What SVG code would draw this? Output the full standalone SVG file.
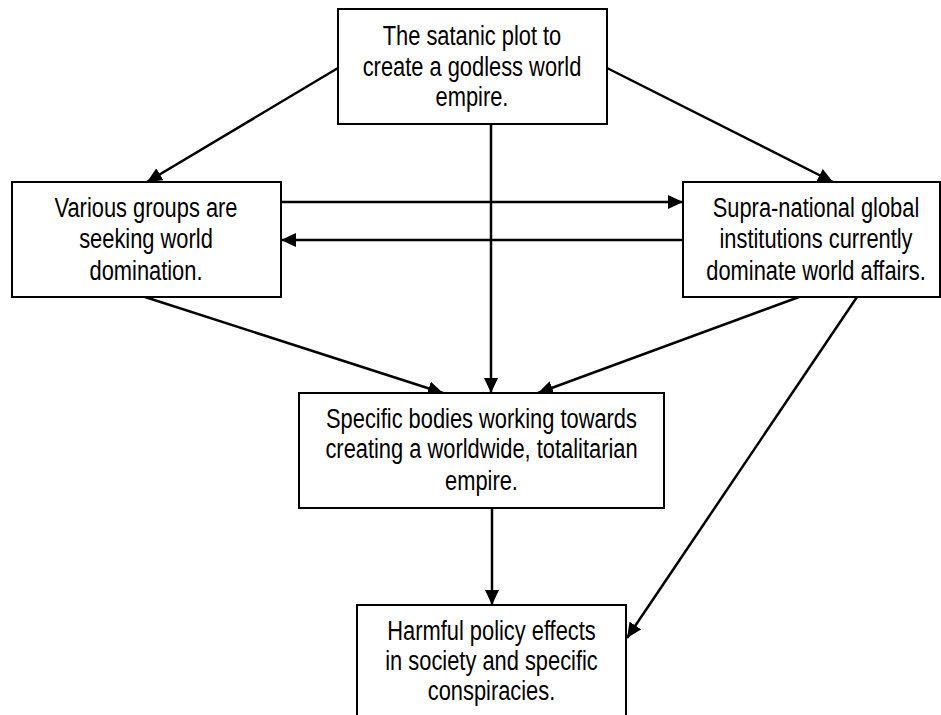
<svg xmlns="http://www.w3.org/2000/svg" width="941" height="715" viewBox="0 0 941 715">
<style>
.box{fill:#fff;stroke:#000;stroke-width:2}
.t{font-family:"Liberation Sans",Arial,sans-serif;font-size:27px;fill:#000;text-anchor:middle}
.c{stroke:#000;stroke-width:2.5;fill:none;marker-end:url(#ah)}
</style>
<defs>
<marker id="ah" markerUnits="userSpaceOnUse" markerWidth="16" markerHeight="14" refX="15" refY="7" orient="auto">
<path d="M0,0 L15,7 L0,14 z" fill="#000"/>
</marker>
</defs>
<rect width="941" height="715" fill="#fff"/>
<g id="connectors">
<line class="c" x1="338" y1="68" x2="147" y2="182"/>
<line class="c" x1="607" y1="68" x2="833" y2="182"/>
<line class="c" x1="491" y1="124" x2="491" y2="393"/>
<line class="c" x1="281" y1="202" x2="683" y2="202"/>
<line class="c" x1="683" y1="240" x2="281" y2="240"/>
<line class="c" x1="145" y1="297" x2="443" y2="393"/>
<line class="c" x1="799" y1="297" x2="538" y2="393"/>
<line class="c" x1="857" y1="297" x2="627" y2="638"/>
<line class="c" x1="492" y1="508" x2="492" y2="605"/>
</g>
<g id="top">
<rect class="box" x="338" y="9" width="269" height="115"/>
<text class="t" transform="translate(472 45) scale(0.81 1)">The satanic plot to</text>
<text class="t" transform="translate(472 76) scale(0.81 1)">create a godless world</text>
<text class="t" transform="translate(472 106) scale(0.81 1)">empire.</text>
</g>
<g id="left">
<rect class="box" x="12" y="182" width="269" height="115"/>
<text class="t" transform="translate(146 217) scale(0.81 1)">Various groups are</text>
<text class="t" transform="translate(146 248) scale(0.81 1)">seeking world</text>
<text class="t" transform="translate(146 280) scale(0.81 1)">domination.</text>
</g>
<g id="right">
<rect class="box" x="683" y="182" width="257" height="115"/>
<text class="t" transform="translate(816 217) scale(0.81 1)">Supra-national global</text>
<text class="t" transform="translate(816 248) scale(0.81 1)">institutions currently</text>
<text class="t" transform="translate(816 280) scale(0.81 1)">dominate world affairs.</text>
</g>
<g id="middle">
<rect class="box" x="299" y="393" width="365" height="115"/>
<text class="t" transform="translate(481.5 428) scale(0.81 1)">Specific bodies working towards</text>
<text class="t" transform="translate(481.5 458) scale(0.81 1)">creating a worldwide, totalitarian</text>
<text class="t" transform="translate(481.5 490) scale(0.81 1)">empire.</text>
</g>
<g id="bottom">
<rect class="box" x="357" y="605" width="269" height="120"/>
<text class="t" transform="translate(491.5 640) scale(0.81 1)">Harmful policy effects</text>
<text class="t" transform="translate(491.5 670) scale(0.81 1)">in society and specific</text>
<text class="t" transform="translate(491.5 700) scale(0.81 1)">conspiracies.</text>
</g>
</svg>
